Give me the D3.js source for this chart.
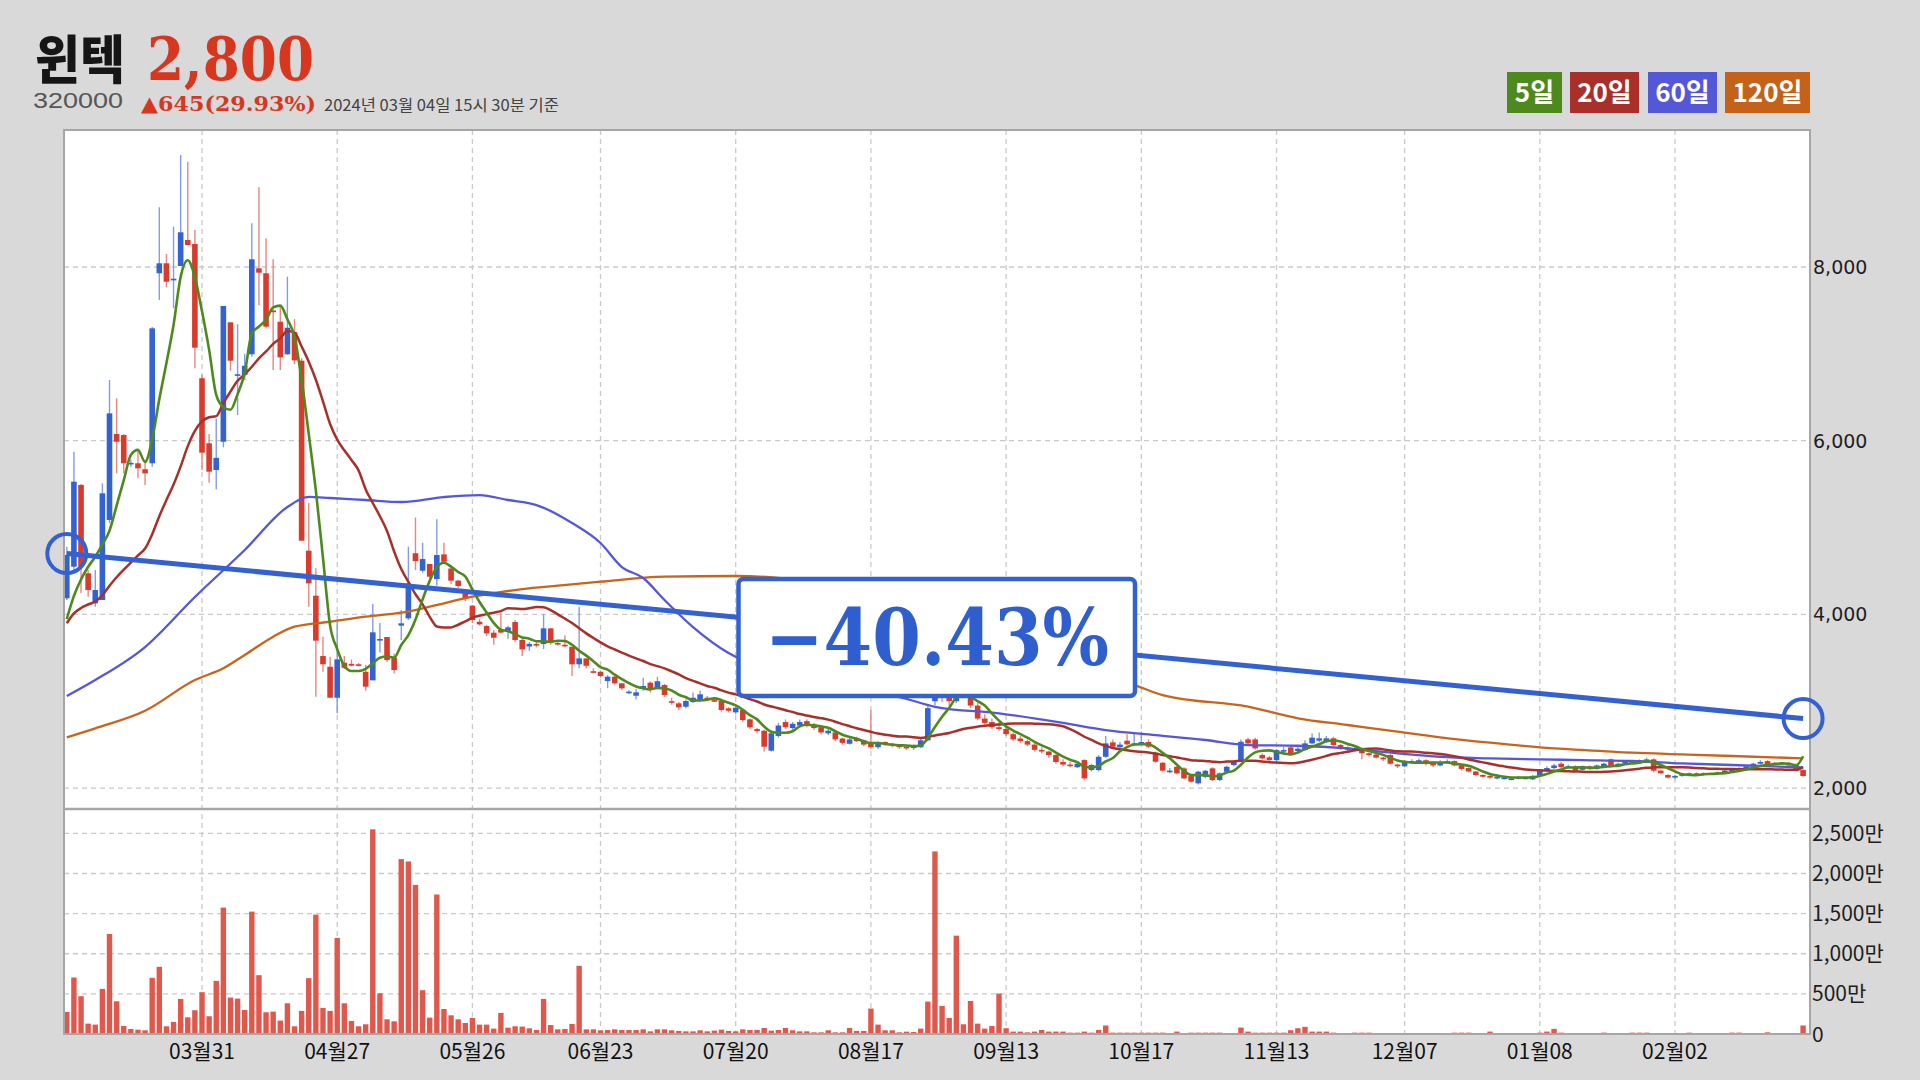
<!DOCTYPE html>
<html><head><meta charset="utf-8">
<script src="https://cdn.jsdelivr.net/npm/d3@7"></script>
<style>
html,body{margin:0;padding:0;background:#d9d9d9;}
svg{display:block;}
</style></head><body>
<svg id="chart" width="1920" height="1080"></svg>
<script>
// ---------- text ----------
const stockName = "윈텍";
const stockCode = "320000";
const currentPrice = 2800;           // latest trade price (headline, trend-line end, latest MA input)
const changeText = "▲645(29.93%)";
const asOfText = "2024년 03월 04일 15시 30분 기준";
const startPrice = 4700;             // trend-line start
const changePctText = "−40.43%";
const legendLabels = ["5일", "20일", "60일", "120일"];

// ---------- axes ----------
const tickIndex = [19, 38, 57, 75, 94, 113, 132, 151, 170, 188, 207, 226];
const tickLabels = ["03월31", "04월27", "05월26", "06월23", "07월20", "08월17", "09월13", "10월17", "11월13", "12월07", "01월08", "02월02"];
const priceTicks = [2000, 4000, 6000, 8000];
const volumeTicks = [0, 500, 1000, 1500, 2000, 2500]; // 만주

// ---------- daily candles ----------
const openP = [
4185,4549,5490,4473,4127,4165,5087,6077,6065,5735,
5740,5671,5740,7928,8043,7850,8012,8311,8265,6719,
5970,5662,5988,7363,6750,6758,6995,7985,7928,7500,
7370,6995,7250,6921,4733,4215,3520,3397,3040,3443,
3430,3425,3339,3240,3705,3739,3500,3870,3954,4704,
4503,4580,4407,4691,4528,4388,4242,4100,3915,3866,
3789,3820,3800,3912,3705,3630,3660,3658,3839,3670,
3650,3627,3425,3493,3345,3339,3232,3282,3206,3105,
3063,3140,3213,3150,3186,3000,2975,2936,2990,3013,
3040,3012,3005,2918,2872,2898,2791,2679,2660,2430,
2600,2760,2690,2720,2770,2730,2700,2630,2640,2570,
2510,2570,2550,2530,2470,2530,2510,2490,2475,2460,
2470,2550,3000,3120,3060,3000,3150,3080,2950,2800,
2760,2700,2680,2620,2570,2540,2500,2440,2420,2380,
2300,2270,2240,2322,2207,2207,2360,2526,2470,2545,
2495,2510,2530,2399,2291,2195,2245,2226,2138,2054,
2130,2226,2092,2188,2265,2322,2560,2560,2380,2353,
2322,2420,2468,2426,2437,2514,2545,2533,2572,2495,
2468,2430,2440,2400,2385,2350,2380,2270,2250,2290,
2300,2320,2300,2260,2290,2310,2260,2230,2190,2150,
2140,2110,2110,2100,2110,2110,2100,2150,2200,2230,
2280,2240,2250,2210,2250,2220,2250,2330,2250,2280,
2290,2300,2300,2330,2200,2150,2120,2140,2150,2170,
2150,2170,2160,2180,2200,2210,2230,2250,2280,2310,
2290,2280,2290,2270,2207];
const highP = [
4779,5873,5500,4511,4511,5509,6699,6488,6077,5780,
5893,5780,7310,8688,8150,8465,9290,9213,8427,6760,
6077,6257,7551,7363,7340,7000,8503,8918,8331,8089,
7543,7889,7400,6950,5282,4530,3743,3512,3915,3520,
3480,3440,3420,4119,3900,3739,3550,4050,4779,5115,
4825,4580,5094,4825,4560,4400,4260,4110,3950,3880,
3820,4020,3870,3935,3720,3680,3700,4004,3839,3700,
3760,3627,4088,3493,3380,3345,3300,3290,3210,3130,
3140,3270,3230,3280,3200,3040,2990,3020,3100,3120,
3060,3030,3020,2930,2940,2910,2800,2690,2670,2650,
2750,2790,2760,2790,2790,2750,2710,2680,2650,2580,
2580,2590,2560,2900,2540,2540,2520,2500,2490,2500,
2580,2960,3600,3250,3150,3300,3200,3100,2980,2850,
2800,2760,2700,2640,2600,2560,2520,2470,2430,2390,
2330,2300,2310,2330,2280,2380,2600,2560,2530,2620,
2640,2650,2560,2420,2300,2230,2260,2240,2150,2200,
2210,2240,2180,2260,2320,2560,2580,2580,2400,2370,
2450,2470,2490,2480,2550,2630,2640,2600,2590,2510,
2480,2470,2450,2410,2400,2360,2390,2280,2320,2330,
2340,2330,2310,2320,2330,2320,2270,2240,2200,2160,
2150,2150,2140,2130,2140,2130,2150,2220,2250,2280,
2300,2270,2260,2260,2260,2270,2290,2340,2290,2310,
2320,2330,2350,2340,2210,2160,2150,2170,2180,2180,
2180,2180,2190,2210,2220,2240,2260,2290,2320,2320,
2300,2300,2300,2280,2215];
const lowP = [
4165,4511,4246,4203,4089,4165,5050,5624,5624,5700,
5567,5490,5700,7620,7767,7525,8012,8250,6834,5662,
5516,5440,5924,6806,6296,6700,6967,7563,7294,6814,
6814,6990,6880,4848,4088,3051,3339,3040,2860,3370,
3400,3400,3120,3240,3560,3450,3320,3705,3935,4511,
4480,4364,4330,4580,4350,4300,4150,3900,3870,3750,
3650,3780,3720,3680,3520,3580,3620,3600,3650,3640,
3620,3290,3380,3380,3320,3270,3150,3190,3130,3080,
3020,3120,3100,3140,3050,2960,2900,2920,2980,3000,
3010,2990,2880,2870,2850,2760,2680,2630,2420,2420,
2580,2680,2670,2700,2700,2670,2620,2610,2540,2500,
2500,2530,2480,2450,2450,2490,2470,2450,2440,2440,
2460,2540,2950,2990,2950,2980,3050,2920,2780,2730,
2680,2660,2600,2540,2520,2480,2420,2400,2350,2280,
2250,2240,2230,2090,2190,2190,2350,2460,2460,2490,
2480,2500,2460,2290,2190,2170,2160,2100,2060,2040,
2110,2080,2080,2180,2250,2310,2500,2440,2330,2310,
2310,2410,2390,2410,2430,2500,2530,2520,2480,2440,
2420,2420,2330,2360,2340,2310,2270,2230,2240,2280,
2290,2260,2240,2250,2280,2250,2200,2180,2140,2120,
2100,2100,2100,2090,2100,2100,2090,2140,2190,2220,
2230,2230,2190,2200,2210,2210,2240,2240,2240,2270,
2280,2290,2290,2180,2160,2110,2100,2130,2140,2140,
2140,2150,2150,2170,2190,2200,2220,2240,2270,2260,
2270,2270,2250,2190,2130];
const closeP = [
4683,5528,4549,4280,4280,5394,6315,5988,5740,5745,
5682,5624,7294,8043,7831,7865,8400,8254,7071,5862,
5643,5802,7551,6921,6765,6863,8089,7935,7313,7480,
6960,7301,6925,4848,4357,3697,3425,3040,3482,3385,
3410,3420,3167,3793,3716,3474,3359,3897,4357,4614,
4637,4434,4683,4606,4388,4326,4177,3935,3885,3781,
3731,3790,3850,3705,3597,3660,3640,3839,3685,3660,
3640,3425,3493,3408,3340,3290,3282,3206,3148,3110,
3102,3175,3148,3230,3071,2994,2929,3002,3040,3079,
3033,3010,2898,2890,2925,2783,2699,2656,2476,2630,
2720,2700,2740,2760,2720,2690,2640,2660,2560,2520,
2560,2540,2500,2470,2520,2510,2490,2470,2460,2480,
2550,2920,3100,3050,3000,3150,3100,2950,2800,2750,
2700,2680,2620,2560,2540,2500,2440,2420,2380,2300,
2270,2260,2280,2111,2265,2360,2514,2476,2500,2503,
2514,2530,2476,2303,2200,2200,2169,2111,2073,2188,
2199,2092,2169,2245,2303,2533,2514,2457,2341,2322,
2437,2437,2399,2453,2514,2580,2572,2572,2495,2460,
2440,2450,2400,2380,2350,2330,2280,2250,2300,2310,
2320,2280,2260,2300,2310,2260,2220,2190,2150,2130,
2120,2130,2120,2110,2125,2120,2140,2200,2230,2260,
2240,2250,2200,2250,2220,2260,2280,2250,2280,2300,
2310,2320,2330,2200,2170,2120,2140,2160,2170,2150,
2170,2160,2180,2200,2210,2230,2250,2280,2300,2270,
2280,2290,2260,2200,2138];
// volume in 만주
const volume = [
275,704,471,129,117,562,1246,408,100,62,
54,46,700,837,96,150,437,208,296,521,
221,662,1575,454,441,300,1525,733,271,279,
167,383,96,288,696,1487,325,288,1196,383,
162,96,121,2550,508,183,158,2179,2150,1858,
546,204,1738,312,233,183,137,200,117,117,
67,262,79,96,92,71,50,437,112,58,
62,125,850,58,58,46,50,58,50,50,
50,58,33,58,58,46,38,33,33,46,
33,42,54,38,33,58,50,50,75,42,
50,75,46,33,33,21,21,46,21,21,
75,38,38,317,117,46,46,21,29,25,
67,404,2275,350,200,1225,121,412,129,67,
100,504,72,30,30,21,30,51,30,30,
30,17,17,30,17,51,106,17,17,17,
17,17,17,17,17,8,30,8,17,17,
17,17,17,8,8,80,30,17,17,17,
17,17,47,72,89,30,30,30,17,12,
8,17,17,17,12,10,8,8,12,10,
8,8,8,10,12,17,17,17,12,10,
30,10,8,8,12,8,10,17,30,64,
17,10,8,8,10,12,17,10,8,12,
17,17,17,8,8,12,10,8,17,12,
10,8,8,10,17,17,8,8,12,21,
12,8,10,8,106];
// closes of the 19 sessions before the window (needed for 5/20-day averages)
const priorCloses = [3250,3300,3480,3600,3950,4100,4050,4000,4100,4030,4050,3980,3900,4100,4320,4200,3600,3550,3700];
// 60-day and 120-day averages: [session index, value]
const ma60Points = [[0,3060],[4,3244],[11,3624],[18,4200],[25,4741],[31,5236],[34,5352],[37,5340],[42,5317],[47,5294],[53,5351],[58,5374],[62,5317],[66,5259],[71,5052],[75,4822],[78,4545],[81,4419],[84,4165],[88,3854],[93,3555],[100,3330],[105,3220],[110,3130],[117,3048],[122,2936],[131,2860],[140,2750],[146,2668],[153,2610],[160,2553],[166,2495],[173,2487],[180,2457],[187,2400],[193,2360],[200,2342],[207,2330],[213,2322],[220,2311],[227,2284],[234,2265],[244,2238]];
const ma120Points = [[0,2584],[4,2688],[11,2890],[18,3244],[22,3379],[25,3532],[29,3743],[32,3858],[37,3915],[42,3973],[47,4019],[51,4088],[57,4203],[64,4290],[69,4330],[75,4376],[84,4434],[94,4442],[100,4420],[110,4200],[120,3900],[130,3600],[140,3380],[150,3186],[154,3071],[166,2937],[173,2803],[180,2726],[187,2649],[193,2584],[200,2522],[207,2469],[213,2438],[220,2407],[227,2388],[234,2369],[244,2342]];

// ---------- drawing ----------
const svg = d3.select("#chart");
const N = closeP.length;
const L = 64, R = 1810, T = 130, SEP = 809, B = 1034;
const x = d3.scaleLinear().domain([0, N - 1]).range([66.8, 1803.1]);
const y = d3.scaleLinear().domain([1770, 9578]).range([808, T]);
const yv = d3.scaleLinear().domain([0, 2816]).range([B, 808]);
const KR = "'Noto Sans CJK KR', 'Noto Sans', sans-serif";
const KR_TIGHT = "'Liberation Sans', 'Noto Sans CJK KR', sans-serif";
const SERIF = "'DejaVu Serif', 'Liberation Serif', serif";

svg.append("rect").attr("x", 0).attr("y", 0).attr("width", 1920).attr("height", 1080).attr("fill", "#d9d9d9");
svg.append("rect").attr("x", L).attr("y", T).attr("width", R - L).attr("height", B - T).attr("fill", "#ffffff");

const grid = svg.append("g").attr("stroke", "#c9c9c9").attr("stroke-width", 1.3).attr("stroke-dasharray", "5,4");
priceTicks.forEach(t => grid.append("line").attr("x1", L).attr("x2", R).attr("y1", y(t)).attr("y2", y(t)));
volumeTicks.filter(v => v > 0).forEach(v => grid.append("line").attr("x1", L).attr("x2", R).attr("y1", yv(v)).attr("y2", yv(v)));
tickIndex.forEach(i => grid.append("line").attr("x1", x(i)).attr("x2", x(i)).attr("y1", T).attr("y2", B));

// volume bars
svg.append("g").selectAll("rect").data(volume).join("rect")
  .attr("x", (d, i) => x(i) - 2.7).attr("width", 5.4)
  .attr("y", d => yv(d)).attr("height", d => Math.max(0.8, B - yv(d)))
  .attr("fill", "#e0574c");

// candles
const UP = "#3362d2", DOWN = "#d93a2b";
const cg = svg.append("g");
for (let i = 0; i < N; i++) {
  const up = closeP[i] >= openP[i];
  cg.append("line").attr("x1", x(i)).attr("x2", x(i)).attr("y1", y(highP[i])).attr("y2", y(lowP[i]))
    .attr("stroke", up ? "#7f9de8" : "#e8877f").attr("stroke-width", 1.4);
  const top = y(Math.max(openP[i], closeP[i])), bot = y(Math.min(openP[i], closeP[i]));
  cg.append("rect").attr("x", x(i) - 2.8).attr("width", 5.6)
    .attr("y", top).attr("height", Math.max(1.6, bot - top)).attr("fill", up ? UP : DOWN);
}

// moving averages
const maInput = closeP.slice(); maInput[N - 1] = currentPrice;
const series = priorCloses.concat(maInput);
const P = priorCloses.length;
function ma(n) { return d3.range(N).map(i => d3.mean(series.slice(i + P - n + 1, i + P + 1))); }
const ma5 = ma(5), ma20 = ma(20);
const lineIdx = d3.line().x((d, i) => x(i)).y(d => y(d)).curve(d3.curveMonotoneX);
const linePts = d3.line().x(d => x(d[0])).y(d => y(d[1])).curve(d3.curveMonotoneX);
svg.append("path").attr("d", linePts(ma120Points)).attr("fill", "none").attr("stroke", "#c8651b").attr("stroke-width", 2.3);
svg.append("path").attr("d", linePts(ma60Points)).attr("fill", "none").attr("stroke", "#5656da").attr("stroke-width", 2.3);
svg.append("path").attr("d", lineIdx(ma20)).attr("fill", "none").attr("stroke", "#a8302a").attr("stroke-width", 2.5);
svg.append("path").attr("d", lineIdx(ma5)).attr("fill", "none").attr("stroke", "#4d8a1d").attr("stroke-width", 2.6);

// frame
const fr = svg.append("g").attr("stroke", "#a6a6a6").attr("fill", "none");
fr.append("rect").attr("x", L).attr("y", T).attr("width", R - L).attr("height", B - T).attr("stroke-width", 2);
fr.append("line").attr("x1", L).attr("x2", R).attr("y1", SEP).attr("y2", SEP).attr("stroke-width", 2.5);

// axis labels
const fmt = d3.format(",");
svg.append("g").selectAll("text").data(priceTicks).join("text")
  .attr("x", 1813).attr("y", d => y(d)).attr("dy", "0.36em")
  .attr("font-family", "'DejaVu Sans', sans-serif").attr("font-size", 19).attr("fill", "#1e1e1e")
  .text(d => fmt(d));
svg.append("g").selectAll("text").data(volumeTicks).join("text")
  .attr("x", 1812).attr("y", d => yv(d)).attr("dy", "0.36em")
  .attr("font-family", KR).attr("font-size", 21).attr("fill", "#1e1e1e")
  .text(d => d === 0 ? "0" : fmt(d) + "만");
svg.append("g").selectAll("text").data(tickIndex).join("text")
  .attr("x", d => x(d)).attr("y", 1051).attr("dy", "0.36em").attr("text-anchor", "middle")
  .attr("font-family", KR).attr("font-size", 21).attr("fill", "#111")
  .text((d, k) => tickLabels[k]);

// trend line between start and current price
const x0 = x(0), y0 = y(startPrice), x1 = x(N - 1), y1 = y(currentPrice);
svg.append("line").attr("x1", x0).attr("y1", y0).attr("x2", x1).attr("y2", y1)
  .attr("stroke", "#3461d1").attr("stroke-width", 5);
[[x0, y0], [x1, y1]].forEach(p => svg.append("circle").attr("cx", p[0]).attr("cy", p[1]).attr("r", 19.5)
  .attr("fill", "none").attr("stroke", "#3461d1").attr("stroke-width", 4));

// percent box
svg.append("rect").attr("x", 738.5).attr("y", 579).attr("width", 396.5).attr("height", 117).attr("rx", 5)
  .attr("fill", "#ffffff").attr("stroke", "#3461d1").attr("stroke-width", 4.5);
svg.append("text").attr("x", 765).attr("y", 665).attr("textLength", 344).attr("lengthAdjust", "spacingAndGlyphs")
  .attr("font-family", SERIF).attr("font-weight", "bold").attr("font-size", 78).attr("fill", "#2f5fcf")
  .text(changePctText);

// header
svg.append("text").attr("x", 35).attr("y", 79).attr("textLength", 90).attr("lengthAdjust", "spacingAndGlyphs")
  .attr("font-family", KR_TIGHT).attr("font-weight", 900).attr("font-size", 52).attr("fill", "#161616").text(stockName);
svg.append("text").attr("x", 147).attr("y", 80).attr("textLength", 167).attr("lengthAdjust", "spacingAndGlyphs")
  .attr("font-family", SERIF).attr("font-weight", "bold").attr("font-size", 59).attr("fill", "#d8371f").text(fmt(currentPrice));
svg.append("text").attr("x", 33).attr("y", 107.5).attr("textLength", 90).attr("lengthAdjust", "spacingAndGlyphs")
  .attr("font-family", "'Liberation Sans', sans-serif").attr("font-size", 21.5).attr("fill", "#565656").text(stockCode);
svg.append("text").attr("x", 141).attr("y", 111).attr("textLength", 175).attr("lengthAdjust", "spacingAndGlyphs")
  .attr("font-family", SERIF).attr("font-weight", "bold").attr("font-size", 21).attr("fill", "#d8371f").text(changeText);
svg.append("text").attr("x", 324).attr("y", 111).attr("textLength", 235).attr("lengthAdjust", "spacingAndGlyphs")
  .attr("font-family", KR).attr("font-size", 16).attr("fill", "#444").text(asOfText);

// legend
const legendColors = ["#4e891e", "#a9302a", "#5557d9", "#c4621a"];
const legendX = [1507, 1570, 1648, 1725], legendW = [55, 69, 69, 85];
legendLabels.forEach((t, k) => {
  svg.append("rect").attr("x", legendX[k]).attr("y", 72).attr("width", legendW[k]).attr("height", 41).attr("fill", legendColors[k]);
  svg.append("text").attr("x", legendX[k] + legendW[k] / 2).attr("y", 92.5).attr("dy", "0.36em").attr("text-anchor", "middle")
    .attr("font-family", KR).attr("font-weight", "bold").attr("font-size", 26).attr("fill", "#fff").text(t);
});
</script>
</body></html>
